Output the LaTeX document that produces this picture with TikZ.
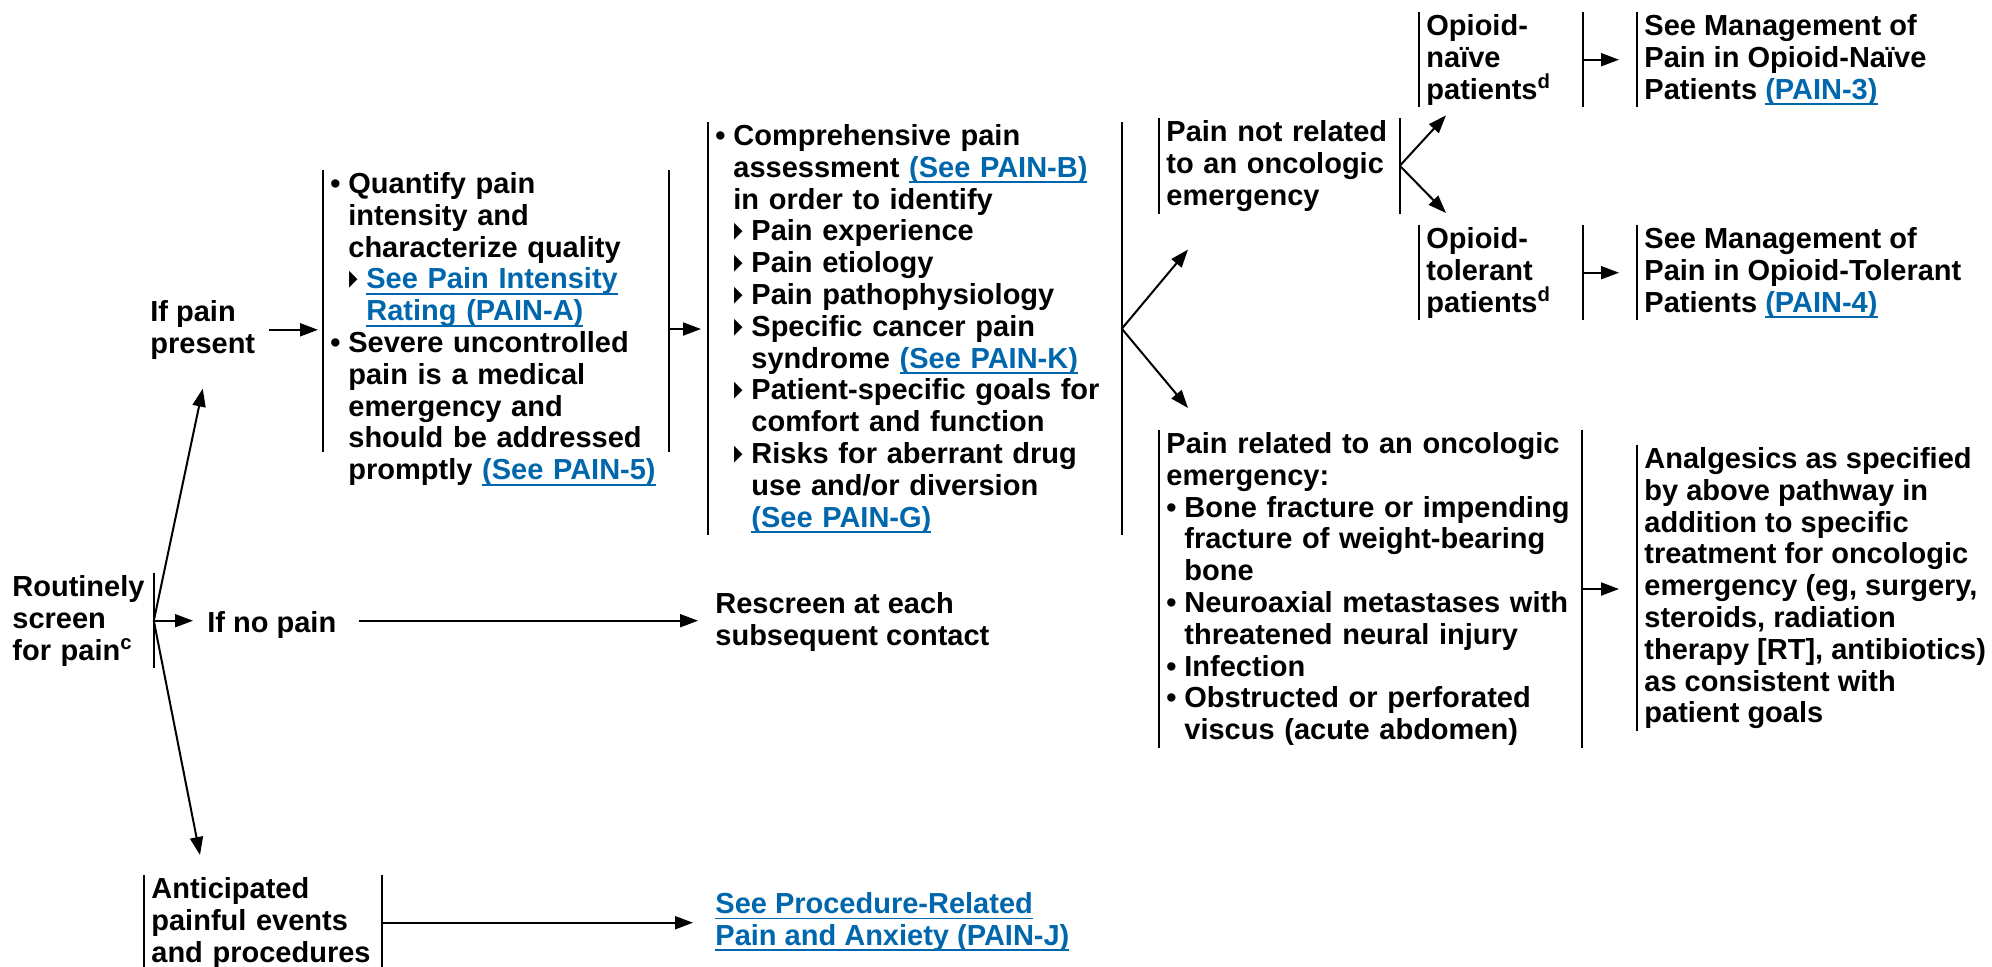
\documentclass[tikz,border=0pt]{standalone}
\usepackage{fontspec}
\setmainfont{Liberation Sans}
\newfontfamily\symfont[FakeStretch=0.5]{DejaVu Sans}
\usetikzlibrary{arrows.meta}
\definecolor{linkblue}{RGB}{0,103,172}
\newsavebox{\lnkbox}
\newcommand{\lnk}[1]{\sbox{\lnkbox}{\color{linkblue}#1}{\color{linkblue}%
	\rlap{\rule[-3pt]{\wd\lnkbox}{0.9pt}}}\usebox{\lnkbox}}
\newcommand{\bul}{\makebox[9pt][l]{•}}
\newcommand{\ind}{\hspace*{9pt}}
\newcommand{\tri}{\makebox[9pt][l]{\hspace{0.5pt}\symfont\fontsize{17}{15.9}\selectfont ▸}}
\tikzset{
	txt/.style={font=\fontsize{14.5}{15.9}\selectfont\bfseries,
		align=left, inner xsep=3.5pt, inner ysep=1pt, anchor=north west},
	barline/.style={draw, line width=1.2pt},
	lbar/.style={append after command={(\tikzlastnode.north west)
		edge[barline] ([yshift=#1]\tikzlastnode.south west)}},
	lbar/.default=0pt,
	rbar/.style={append after command={(\tikzlastnode.north east)
		edge[barline] ([yshift=#1]\tikzlastnode.south east)}},
	rbar/.default=0pt,
	arr/.style={-{Triangle[length=9pt,width=6.5pt]}, line width=1pt},
}
\begin{document}
\begin{tikzpicture}[x=0.5pt, y=-0.5pt]
\useasboundingbox (0,0) rectangle (1992,967);
\node[txt, rbar, text width=67pt] (screen) at (5,573)
	{Routinely\\screen\\for pain\textsuperscript{c}};
\node[txt] (present) at (143,298) {If pain\\present};
\node[txt] (ifno) at (200,609) {If no pain};
\node[txt, lbar, rbar, text width=111.5pt] (antic) at (144,875)
	{Anticipated\\painful events\\and procedures};
\node[txt] (rescr) at (708,590) {Rescreen at each\\subsequent contact};
\node[txt] (proc) at (708,890)
	{\lnk{See Procedure-Related}\\\lnk{Pain and Anxiety (PAIN-J)}};
\node[txt, lbar=18pt, rbar=18pt, text width=165.5pt] (quant) at (323,170)
	{\bul Quantify pain\\\ind intensity and\\\ind characterize quality\\
	\ind\tri\lnk{See Pain Intensity}\\\ind\ind\lnk{Rating (PAIN-A)}\\
	\bul Severe uncontrolled\\\ind pain is a medical\\\ind emergency and\\
	\ind should be addressed\\\ind promptly \lnk{(See PAIN-5)}};
\node[txt, lbar, rbar, text width=199.5pt] (assess) at (708,122)
	{\bul Comprehensive pain\\\ind assessment \lnk{(See PAIN-B)}\\
	\ind in order to identify\\\ind\tri Pain experience\\
	\ind\tri Pain etiology\\\ind\tri Pain pathophysiology\\
	\ind\tri Specific cancer pain\\\ind\ind syndrome \lnk{(See PAIN-K)}\\
	\ind\tri Patient-specific goals for\\\ind\ind comfort and function\\
	\ind\tri Risks for aberrant drug\\\ind\ind use and/or diversion\\
	\ind\ind\lnk{(See PAIN-G)}};
\node[txt, lbar, rbar, text width=113pt] (notrel) at (1159,118)
	{Pain not related\\to an oncologic\\emergency};
\node[txt, lbar, rbar, text width=204pt] (rel) at (1159,430)
	{Pain related to an oncologic\\emergency:\\
	\bul Bone fracture or impending\\\ind fracture of weight-bearing\\\ind bone\\
	\bul Neuroaxial metastases with\\\ind threatened neural injury\\
	\bul Infection\\\bul Obstructed or perforated\\\ind viscus (acute abdomen)};
\node[txt, lbar, rbar, text width=74.5pt] (naive) at (1419,12)
	{Opioid-\\naïve\\patients\textsuperscript{d}};
\node[txt, lbar, rbar, text width=74.5pt] (tol) at (1419,225)
	{Opioid-\\tolerant\\patients\textsuperscript{d}};
\node[txt, lbar] (mgmt3) at (1637,12)
	{See Management of\\Pain in Opioid-Naïve\\Patients \lnk{(PAIN-3)}};
\node[txt, lbar] (mgmt4) at (1637,225)
	{See Management of\\Pain in Opioid-Tolerant\\Patients \lnk{(PAIN-4)}};
\node[txt, lbar] (analg) at (1637,445)
	{Analgesics as specified\\by above pathway in\\addition to specific\\
	treatment for oncologic\\emergency (eg, surgery,\\steroids, radiation\\
	therapy [RT], antibiotics)\\as consistent with\\patient goals};
\draw (screen.east)
	edge[arr] ([yshift=-13.5pt]present.south)
	edge[arr, shorten >=3.5pt] (screen.east -| ifno.west)
	edge[arr] ([xshift=28pt,yshift=10pt]antic.north west);
\draw[arr, shorten <=7.5pt, shorten >=5pt]
	(ifno.east |- screen.east) -- (rescr.west |- screen.east);
\draw[arr, shorten <=3pt, shorten >=2.5pt]
	(present.east) -- (present.east -| quant.west);
\draw[arr, shorten >=3.5pt] (quant.east) -- (quant.east -| assess.west);
\draw (assess.east)
	edge[arr] ([xshift=14.5pt,yshift=-18pt]notrel.south west)
	edge[arr] ([xshift=14.5pt,yshift=11pt]rel.north west);
\draw (notrel.east)
	edge[arr] ([xshift=13.5pt,yshift=-4pt]naive.south west)
	edge[arr] ([xshift=13.5pt,yshift=6pt]tol.north west);
\foreach \a/\b in {naive/mgmt3, tol/mgmt4, rel/analg} \draw
	[arr, shorten >=9pt] (\a.east) -- (\a.east -| \b.west);
\draw[arr, shorten >=7.5pt] (antic.east) -- (antic.east -| proc.west);
\end{tikzpicture}
\end{document}
